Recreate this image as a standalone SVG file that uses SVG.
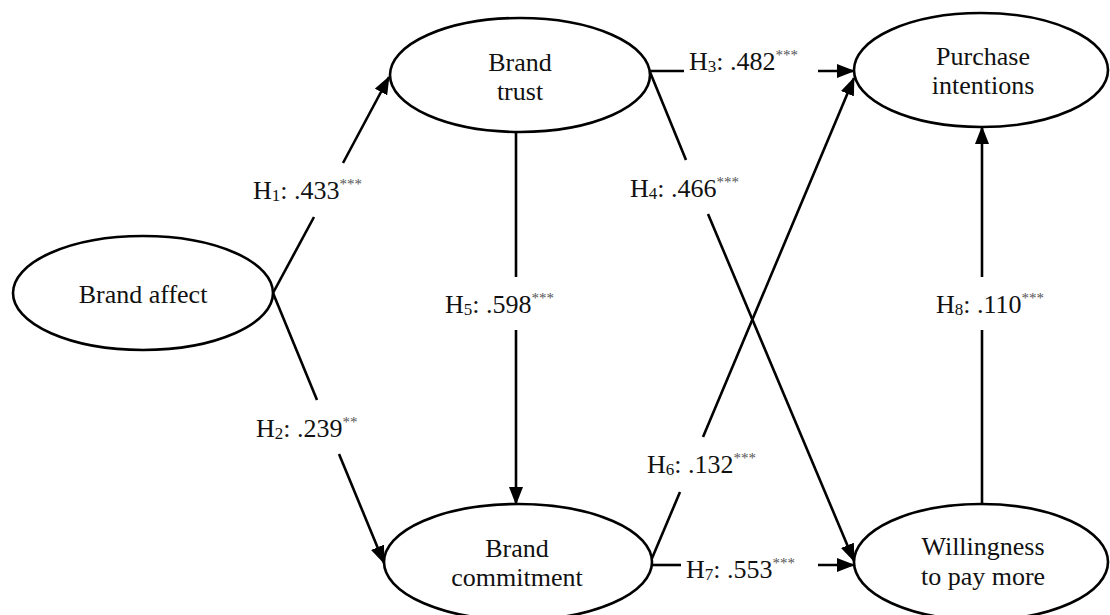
<svg xmlns="http://www.w3.org/2000/svg" width="1110" height="615" viewBox="0 0 1110 615">
<style>
.node ellipse{fill:#fff;stroke:#000;stroke-width:2.6}
.node text{font-family:"Liberation Serif","Times New Roman",serif;font-size:26px;fill:#111;text-anchor:middle}
.conn line{stroke:#000;stroke-width:2.6}
.lbl{font-family:"Liberation Serif","Times New Roman",serif;font-size:26px;fill:#111}
.sub{font-size:17px}
.sup{font-size:15px;fill:#555}
</style>
<defs>
<marker id="ah" markerUnits="userSpaceOnUse" markerWidth="18" markerHeight="14" refX="17" refY="7" orient="auto">
<path d="M0,0 L18,7 L0,14 z" fill="#000"/>
</marker>
</defs>
<g class="conn" id="connectors">
<line x1="273" y1="293" x2="314" y2="217"/>
<line x1="343" y1="163" x2="389" y2="77" marker-end="url(#ah)"/>
<line x1="273" y1="293" x2="317" y2="400"/>
<line x1="339" y1="454" x2="384" y2="563" marker-end="url(#ah)"/>
<line x1="516" y1="132" x2="516" y2="277"/>
<line x1="516" y1="330" x2="516" y2="504" marker-end="url(#ah)"/>
<line x1="650" y1="71" x2="684" y2="71"/>
<line x1="818" y1="71" x2="854" y2="71" marker-end="url(#ah)"/>
<line x1="650" y1="72" x2="686" y2="160"/>
<line x1="708" y1="214" x2="854" y2="561" marker-end="url(#ah)"/>
<line x1="650" y1="563" x2="680" y2="492"/>
<line x1="703" y1="437" x2="854" y2="78" marker-end="url(#ah)"/>
<line x1="650" y1="565" x2="681" y2="565"/>
<line x1="818" y1="565" x2="854" y2="565" marker-end="url(#ah)"/>
<line x1="982" y1="504" x2="982" y2="330"/>
<line x1="982" y1="277" x2="982" y2="127" marker-end="url(#ah)"/>
</g>
<g id="node-brand-affect" class="node">
<ellipse cx="143" cy="293" rx="130" ry="57"/>
<text x="143" y="303">Brand affect</text>
</g>
<g id="node-brand-trust" class="node">
<ellipse cx="520" cy="75" rx="130" ry="57"/>
<text x="520" y="71">Brand</text>
<text x="520" y="100">trust</text>
</g>
<g id="node-purchase-intentions" class="node">
<ellipse cx="981" cy="70" rx="127" ry="57"/>
<text x="983" y="65">Purchase</text>
<text x="983" y="94">intentions</text>
</g>
<g id="node-brand-commitment" class="node">
<ellipse cx="518" cy="562" rx="134" ry="58"/>
<text x="517" y="557">Brand</text>
<text x="517" y="586">commitment</text>
</g>
<g id="node-willingness" class="node">
<ellipse cx="981" cy="562" rx="127" ry="58"/>
<text x="983" y="555">Willingness</text>
<text x="983" y="585">to pay more</text>
</g>
<g id="labels">
<text class="lbl" x="253" y="199">H<tspan class="sub" dy="2">1</tspan><tspan dy="-2">: .433</tspan><tspan class="sup" dy="-10">***</tspan></text>
<text class="lbl" x="256" y="437">H<tspan class="sub" dy="2">2</tspan><tspan dy="-2">: .239</tspan><tspan class="sup" dy="-10">**</tspan></text>
<text class="lbl" x="689" y="70">H<tspan class="sub" dy="2">3</tspan><tspan dy="-2">: .482</tspan><tspan class="sup" dy="-10">***</tspan></text>
<text class="lbl" x="630" y="197">H<tspan class="sub" dy="2">4</tspan><tspan dy="-2">: .466</tspan><tspan class="sup" dy="-10">***</tspan></text>
<text class="lbl" x="445" y="313">H<tspan class="sub" dy="2">5</tspan><tspan dy="-2">: .598</tspan><tspan class="sup" dy="-10">***</tspan></text>
<text class="lbl" x="647" y="473">H<tspan class="sub" dy="2">6</tspan><tspan dy="-2">: .132</tspan><tspan class="sup" dy="-10">***</tspan></text>
<text class="lbl" x="686" y="578">H<tspan class="sub" dy="2">7</tspan><tspan dy="-2">: .553</tspan><tspan class="sup" dy="-10">***</tspan></text>
<text class="lbl" x="936" y="313">H<tspan class="sub" dy="2">8</tspan><tspan dy="-2">: .110</tspan><tspan class="sup" dy="-10">***</tspan></text>
</g>
</svg>
